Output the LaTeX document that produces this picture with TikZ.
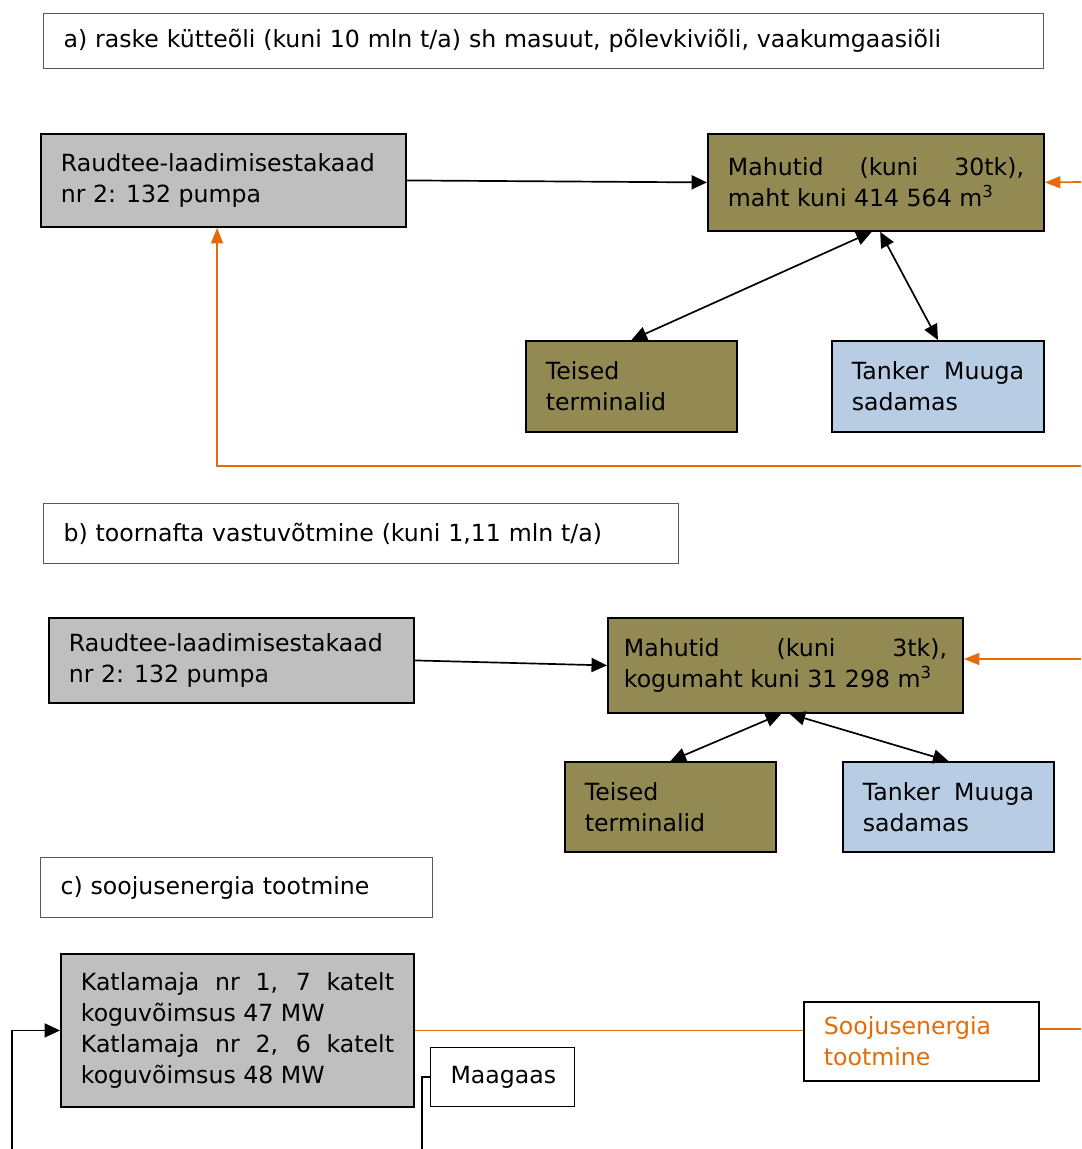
\documentclass[tikz,border=0pt]{standalone}
\usepackage{fontspec}
\setmainfont{DejaVu Sans}
\usetikzlibrary{arrows.meta}
\setlength{\parindent}{0pt}
\definecolor{tankfill}{HTML}{938953}
\definecolor{railfill}{HTML}{BFBFBF}
\definecolor{shipfill}{HTML}{B8CCE4}
\definecolor{heatline}{HTML}{E36C09}
\tikzset{
    box/.style={draw, line width=1.3pt, anchor=north west, inner xsep=0.5cm, inner ysep=2pt,
        font=\fontsize{16.8}{22}\selectfont},
    titlebox/.style={box, draw=black!65, line width=0.8pt, align=left},
    tankbox/.style={box, fill=tankfill, align=justify},
    railbox/.style={box, fill=railfill, align=justify},
    shipbox/.style={box, fill=shipfill, align=justify},
    arr/.style={line width=1.2pt, -{Triangle[length=11pt,width=10pt]}},
    dblarr/.style={line width=1.2pt, {Triangle[length=11pt,width=10pt]}-{Triangle[length=11pt,width=10pt]}},
    heatarr/.style={heatline, line width=1.2pt, -{Triangle[length=11pt,width=8.5pt]}},
    heat/.style={heatline, line width=1.2pt}
}
\begin{document}
\begin{tikzpicture}[x=0.025cm, y=-0.025cm]
    \useasboundingbox (0,0) rectangle (1081,1149);
    % a)
    \node[titlebox, minimum width=25cm, minimum height=1.375cm, text width=24cm] (titleA) at (43,13)
        {a) raske kütteõli (kuni 10 mln t/a) sh masuut, põlevkiviõli, vaakumgaasiõli};
    \node[railbox, minimum width=9.125cm, minimum height=2.325cm, text width=8.125cm] (railA) at (40,133)
        {Raudtee-laadimisestakaad\linebreak nr 2: 132 pumpa};
    \node[tankbox, minimum width=8.4cm, minimum height=2.425cm, text width=7.4cm] (tanksA) at (707,133)
        {Mahutid (kuni 30tk),\linebreak maht kuni 414 564 m\textsuperscript{3}};
    \node[tankbox, align=left, minimum width=5.275cm, minimum height=2.275cm, text width=4.275cm] (otherA) at (525,340)
        {Teised\\terminalid};
    \node[shipbox, minimum width=5.3cm, minimum height=2.275cm, text width=4.3cm] (shipA) at (831,340)
        {Tanker Muuga\linebreak sadamas};
    \coordinate (inA) at (1081,182);
    \coordinate (loopA) at (1081,466);
    \draw[arr] (railA.east) -- (tanksA.west);
    \draw[heatarr] (inA) -- (tanksA.east);
    \draw[dblarr] (otherA.north) -- ([xshift=-3pt]tanksA.south);
    \draw[dblarr] (shipA.north) -- ([xshift=3pt]tanksA.south);
    \draw[heatarr] (loopA) -| ([xshift=-0.16cm]railA.south);
    % b)
    \node[titlebox, minimum width=15.875cm, minimum height=1.5cm, text width=14.875cm] (titleB) at (43,503)
        {b) toornafta vastuvõtmine (kuni 1,11 mln t/a)};
    \node[railbox, minimum width=9.125cm, minimum height=2.125cm, text width=8.125cm] (railB) at (48,617)
        {Raudtee-laadimisestakaad\linebreak nr 2: 132 pumpa};
    \node[tankbox, inner xsep=0.4cm, minimum width=8.875cm, minimum height=2.375cm, text width=8.075cm] (tanksB) at (607,617)
        {Mahutid (kuni 3tk),\linebreak \mbox{kogumaht kuni 31 298 m\textsuperscript{3}}};
    \node[tankbox, align=left, minimum width=5.275cm, minimum height=2.25cm, text width=4.275cm] (otherB) at (564,761)
        {Teised\\terminalid};
    \node[shipbox, minimum width=5.275cm, minimum height=2.25cm, text width=4.275cm] (shipB) at (842,761)
        {Tanker Muuga\linebreak sadamas};
    \coordinate (inB) at (1081,659);
    \draw[arr] (railB.east) -- (tanksB.west);
    \draw[heatarr] (inB) -- (inB -| tanksB.east);
    \draw[dblarr] (otherB.north) -- ([xshift=-3pt]tanksB.south);
    \draw[dblarr] (shipB.north) -- ([xshift=3pt]tanksB.south);
    % c)
    \node[titlebox, minimum width=9.8cm, minimum height=1.5cm, text width=8.8cm] (titleC) at (40,857)
        {c) soojusenergia tootmine};
    \node[railbox, minimum width=8.825cm, minimum height=3.825cm, text width=7.825cm] (boiler) at (60,953)
        {Katlamaja nr 1, 7 katelt\linebreak koguvõimsus 47 MW\par
         Katlamaja nr 2, 6 katelt\linebreak koguvõimsus 48 MW};
    \node[titlebox, draw=black, minimum width=3.6cm, minimum height=1.475cm, text width=2.6cm] (gas) at (430,1047) {Maagaas};
    \node[box, align=left, text=heatline, minimum width=5.875cm, minimum height=1.975cm, text width=4.875cm] (heatout) at (803,1001)
        {Soojusenergia\\tootmine};
    \coordinate (inC) at (12,1149);
    \coordinate (gasIn) at (422,1149);
    \coordinate (outC) at (1081,1029);
    \draw[arr] (inC) |- (boiler.west);
    \draw[line width=1.2pt] (gasIn) |- (gas.west);
    \draw[heat] (boiler.east) -- (boiler.east -| heatout.west);
    \draw[heat] (heatout.east |- outC) -- (outC);
\end{tikzpicture}
\end{document}
